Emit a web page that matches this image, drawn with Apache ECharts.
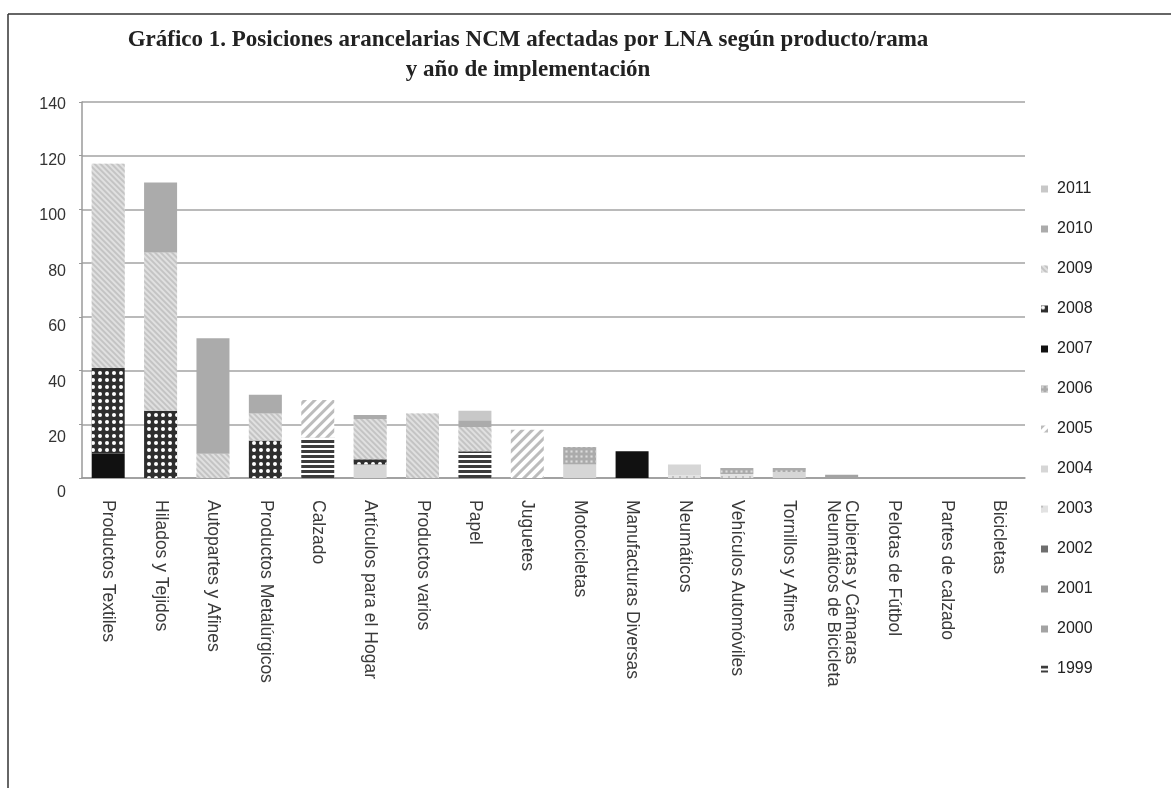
<!DOCTYPE html>
<html>
<head>
<meta charset="utf-8">
<script src="https://cdn.jsdelivr.net/npm/echarts@6/dist/echarts.min.js"></script>
<style>
html,body{margin:0;padding:0;background:#fff;}
#c{width:1171px;height:788px;}
</style>
</head>
<body>
<div id="c"></div>
<script>
// ---- data ----
const categories = [
  "Productos Textiles", "Hilados y Tejidos", "Autopartes y Afines", "Productos Metalúrgicos",
  "Calzado", "Artículos para el Hogar", "Productos varios", "Papel", "Juguetes",
  "Motocicletas", "Manufacturas Diversas", "Neumáticos", "Vehículos Automóviles",
  "Tornillos y Afines", "Cubiertas y Cámaras\nNeumáticos de Bicicleta", "Pelotas de Fútbol",
  "Partes de calzado", "Bicicletas"
];
const years = ["1999","2000","2001","2002","2003","2004","2005","2006","2007","2008","2009","2010","2011"];
const v1999 = [0,0,0,0,15,0,0,10,0,0,0,0,0,0,0,0,0,0];
const v2000 = [0,0,0,0,0,0,0,0,0,0,0,0,0,0,1.2,0,0,0];
const v2001 = [0,0,0,0,0,0,0,0,0,0,0,0,0,0,0,0,0,0];
const v2002 = [0,0,0,0,0,0,0,0,0,0,0,0,0,0,0,0,0,0];
const v2003 = [0,0,0,0,0,0,0,0,0,0,0,1,1.5,0,0,0,0,0];
const v2004 = [0,0,0,0,0,5,0,0,0,5,0,4,0,2.2,0,0,0,0];
const v2005 = [0,0,0,0,14,0,0,0,18,0,0,0,0,0,0,0,0,0];
const v2006 = [0,0,0,0,0,0,0,0,0,6.5,0,0,2.2,1.5,0,0,0,0];
const v2007 = [9,0,0,0,0,0,0,0,0,0,10,0,0,0,0,0,0,0];
const v2008 = [32,25,0,14,0,2,0,0,0,0,0,0,0,0,0,0,0,0];
const v2009 = [76,59,9,10,0,15,24,9,0,0,0,0,0,0,0,0,0,0];
const v2010 = [0,26,43,7,0,1.5,0,2.5,0,0,0,0,0,0,0,0,0,0];
const v2011 = [0,0,0,0,0,0,0,3.5,0,0,0,0,0,0,0,0,0,0];
const yTicks = {min:0, max:140, interval:20};

const valuesByYear = {
  "1999":v1999,"2000":v2000,"2001":v2001,"2002":v2002,"2003":v2003,"2004":v2004,"2005":v2005,
  "2006":v2006,"2007":v2007,"2008":v2008,"2009":v2009,"2010":v2010,"2011":v2011
};

// ---- styles ----
const styles = {
  "1999": {color:'#ffffff', decal:{symbol:'rect', color:'#3c3c3c', dashArrayX:[1,0], dashArrayY:[2.2,2], rotation:0}},
  "2000": {color:'#a3a3a3'},
  "2001": {color:'#9a9a9a'},
  "2002": {color:'#6e6e6e'},
  "2003": {color:'#e2e2e2', decal:{symbol:'rect', color:'#707070', symbolSize:0.6, dashArrayX:[2,5], dashArrayY:[2,5]}},
  "2004": {color:'#d6d6d6'},
  "2005": {color:'#ffffff', decal:{symbol:'rect', color:'#bcbcbc', dashArrayX:[1,0], dashArrayY:[3,4], rotation:-Math.PI/4}},
  "2006": {color:'#ababab', decal:{symbol:'rect', color:'#dcdcdc', symbolSize:0.7, dashArrayX:[3,2], dashArrayY:[3,2]}},
  "2007": {color:'#111111'},
  "2008": {color:'#2e2e2e', decal:{symbol:'circle', color:'#ffffff', symbolSize:1, dashArrayX:[4,3], dashArrayY:[4,3]}},
  "2009": {color:'#e0e0e0', decal:{symbol:'rect', color:'#c4c4c4', dashArrayX:[1,0], dashArrayY:[1.5,1.5], rotation:Math.PI/4}},
  "2010": {color:'#ababab'},
  "2011": {color:'#c8c8c8'}
};

const FONT = 'Liberation Sans, Arial, sans-serif';
const chart = echarts.init(document.getElementById('c'), null, {renderer:'canvas'});

const series = years.map(y => ({
  name: y, type: 'bar', stack: 'total', barWidth: 33,
  xAxisIndex: 0, yAxisIndex: 0,
  data: valuesByYear[y],
  itemStyle: styles[y],
  emphasis: {disabled: true}
}));

chart.setOption({
  animation: false,
  backgroundColor: '#ffffff',
  grid: [
    {left: 82, right: 146, top: 102, bottom: 310, containLabel: false},
    {left: 82, right: 146, top: 105, bottom: 295, containLabel: false}
  ],
  xAxis: [
    {type:'category', gridIndex:0, data: categories,
     axisLine:{show:true, lineStyle:{color:'#9a9a9a', width:1.5}},
     axisTick:{show:false},
     axisLabel:{rotate:-90, margin:22, fontFamily:FONT, fontSize:17.5, color:'#3a3a3a', interval:0, lineHeight:18}},
    {type:'category', gridIndex:1, data: categories, show:false}
  ],
  yAxis: [
    {type:'value', gridIndex:0, min:yTicks.min, max:yTicks.max, interval:yTicks.interval,
     axisLine:{show:true, lineStyle:{color:'#9a9a9a', width:1.5}},
     axisTick:{show:true, length:3, lineStyle:{color:'#9a9a9a'}},
     axisLabel:{show:false},
     splitLine:{show:true, lineStyle:{color:'#a3a3a3', width:1.5}}},
    {type:'value', gridIndex:1, min:yTicks.min, max:yTicks.max, interval:yTicks.interval,
     axisLine:{show:false}, axisTick:{show:false}, splitLine:{show:false},
     axisLabel:{margin:16, fontFamily:FONT, fontSize:16, color:'#333'}}
  ],
  legend: {
    orient:'vertical', left:1036, top:176,
    data: years.slice().reverse(),
    icon:'rect', itemWidth:7, itemHeight:7, itemGap:24,
    textStyle:{fontFamily:FONT, fontSize:16, color:'#222', lineHeight:16, padding:[0,0,0,4]},
    selectedMode:false
  },
  graphic: [
    {type:'line', shape:{x1:8, y1:14, x2:1171, y2:14}, style:{stroke:'#333', lineWidth:1.5}},
    {type:'line', shape:{x1:8, y1:14, x2:8, y2:788}, style:{stroke:'#333', lineWidth:1.5}},
    {type:'text', x:528, y:25, style:{text:'Gráfico 1. Posiciones arancelarias NCM afectadas por LNA según producto/rama\ny año de implementación',
      textAlign:'center', fontFamily:'Liberation Serif, Times New Roman, serif', fontWeight:'bold', fontSize:23, lineHeight:30, fill:'#222'}}
  ],
  series: series
});
</script>
</body>
</html>
